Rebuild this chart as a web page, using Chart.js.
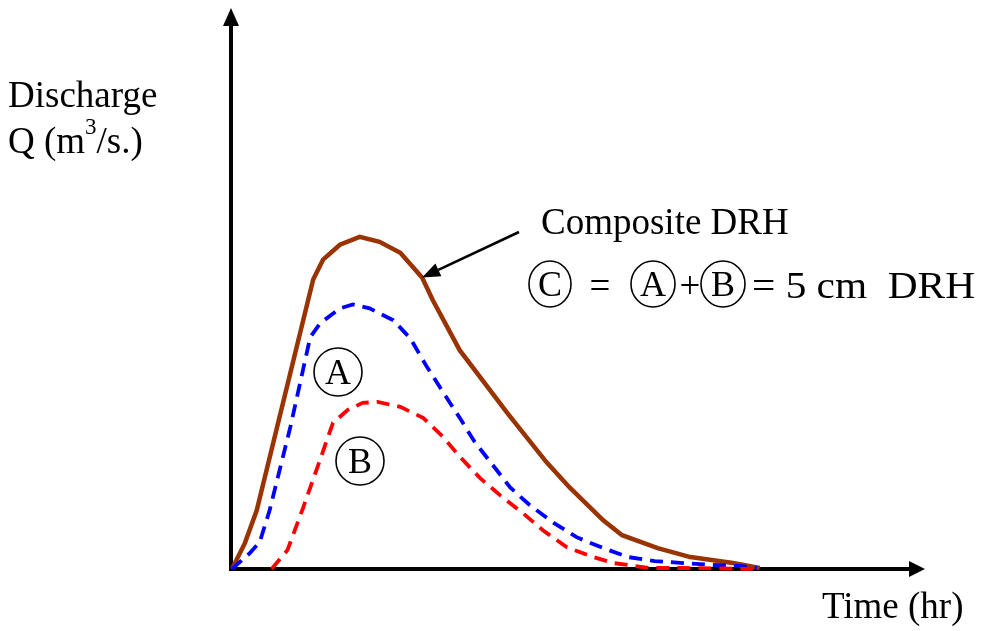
<!DOCTYPE html>
<html>
<head>
<meta charset="utf-8">
<script src="https://cdn.jsdelivr.net/npm/chart.js@4/dist/chart.umd.min.js"></script>
<style>
  html, body { margin: 0; padding: 0; background: #ffffff; }
  #wrap { width: 982px; height: 631px; position: relative; }
</style>
</head>
<body>
<div id="wrap"><canvas id="c" width="982" height="631"></canvas></div>
<script>
// ---- Data (time in hr, discharge in arbitrary units) ----
const compositeTime = [0, 1.3, 2.5, 8.2, 9.2, 10.9, 12.9, 14.9, 17.0, 19.2, 20.3, 23.0, 27.8, 31.8, 34.1, 37.5, 39.4, 43.0, 46.3, 50.6, 53.3];
const compositeQ    = [0, 2.6, 5.9, 29.1, 31.1, 32.6, 33.4, 32.9, 31.8, 29.3, 27.0, 22.0, 15.7, 10.7, 8.2, 4.9, 3.4, 2.1, 1.2, 0.6, 0.1];

const drhATime = [0, 1.8, 2.8, 3.8, 5.9, 7.9, 8.9, 10.9, 12.2, 13.9, 16.3, 18.0, 19.7, 21.5, 23.0, 24.5, 26.3, 28.1, 30.1, 32.4, 34.8, 37.5, 40.0, 42.7, 45.6, 48.6, 51.3, 53.0];
const drhAQ    = [0, 1.6, 2.7, 5.9, 14.3, 23.3, 24.7, 26.2, 26.6, 26.2, 25.0, 23.2, 20.3, 17.5, 15.2, 12.8, 10.5, 8.2, 6.4, 4.7, 3.2, 2.1, 1.2, 0.8, 0.6, 0.4, 0.3, 0.1];

const drhBTime = [4.0, 5.6, 7.2, 8.9, 10.2, 11.7, 13.2, 14.7, 17.0, 19.3, 21.3, 23.0, 25.1, 27.1, 29.4, 31.4, 33.8, 36.5, 38.5, 42.2, 45.6, 53.0];
const drhBQ    = [0, 1.9, 6.2, 11.0, 14.7, 16.0, 16.7, 16.8, 16.3, 15.2, 13.3, 11.3, 9.1, 7.4, 5.6, 3.9, 2.2, 1.2, 0.6, 0.1, 0.1, 0];

const seriesLabels = ["Composite DRH", "A", "B"];

const toPts = (xs, ys) => xs.map((x, i) => ({ x: x, y: ys[i] }));

const FONT = "'Liberation Serif', 'Times New Roman', serif";

function drawCircled(ctx, letter, cx, cy, rx, ry) {
  ctx.save();
  ctx.beginPath();
  ctx.ellipse(cx, cy, rx, ry, 0, 0, Math.PI * 2);
  ctx.lineWidth = 1.6;
  ctx.strokeStyle = '#000';
  ctx.stroke();
  ctx.fillStyle = '#000';
  ctx.font = '36px ' + FONT;
  ctx.textAlign = 'center';
  ctx.textBaseline = 'alphabetic';
  ctx.fillText(letter, cx, cy + 12);
  ctx.restore();
}

const decor = {
  id: 'decor',
  beforeDatasetsDraw(chart) {
    const ctx = chart.ctx;
    const xs = chart.scales.x, ys = chart.scales.y;
    const ox = xs.getPixelForValue(0) - 1;
    const oy = ys.getPixelForValue(0);
    const topTip = chart.chartArea.top - 4;
    const rightTip = chart.chartArea.right;
    ctx.save();
    ctx.strokeStyle = '#000';
    ctx.fillStyle = '#000';
    ctx.lineWidth = 4;
    // y axis
    ctx.beginPath();
    ctx.moveTo(ox, oy + 2);
    ctx.lineTo(ox, topTip + 16);
    ctx.stroke();
    ctx.beginPath();
    ctx.moveTo(ox, topTip);
    ctx.lineTo(ox - 8, topTip + 18);
    ctx.lineTo(ox + 8, topTip + 18);
    ctx.closePath();
    ctx.fill();
    // x axis
    ctx.beginPath();
    ctx.moveTo(ox - 2, oy);
    ctx.lineTo(rightTip - 14, oy);
    ctx.stroke();
    ctx.beginPath();
    ctx.moveTo(rightTip, oy);
    ctx.lineTo(rightTip - 16, oy - 8);
    ctx.lineTo(rightTip - 16, oy + 8);
    ctx.closePath();
    ctx.fill();
    ctx.restore();
  },
  afterDatasetsDraw(chart) {
    const ctx = chart.ctx;
    const xs = chart.scales.x, ys = chart.scales.y;
    ctx.save();
    ctx.fillStyle = '#000';
    ctx.textBaseline = 'alphabetic';
    ctx.textAlign = 'left';
    ctx.font = '37px ' + FONT;
    // Y axis title
    ctx.fillText('Discharge', 8, 107);
    const q = 'Q (m';
    ctx.fillText(q, 8, 153);
    let w = ctx.measureText(q).width;
    ctx.font = '23px ' + FONT;
    ctx.fillText('3', 8 + w, 134);
    const w3 = ctx.measureText('3').width;
    ctx.font = '37px ' + FONT;
    ctx.fillText('/s.)', 8 + w + w3, 153);
    // X axis title
    ctx.fillText('Time (hr)', 822, 618);
    // Composite label
    ctx.fillText('Composite DRH', 541, 234);
    // Equation
    drawCircled(ctx, 'C', 550, 284, 21, 23);
    ctx.font = '37px ' + FONT;
    ctx.textAlign = 'center';
    ctx.fillText('=', 600, 298);
    drawCircled(ctx, 'A', 653, 284, 22, 23);
    ctx.font = '37px ' + FONT;
    ctx.textAlign = 'center';
    ctx.fillText('+', 690, 298);
    drawCircled(ctx, 'B', 723, 284, 22, 23);
    ctx.font = '37px ' + FONT;
    ctx.textAlign = 'left';
    const eq = '= 5 cm  DRH';
    const eqW = ctx.measureText(eq).width;
    ctx.save();
    ctx.translate(752, 298);
    ctx.scale(223 / eqW, 1);
    ctx.fillText(eq, 0, 0);
    ctx.restore();
    // Curve labels
    drawCircled(ctx, 'A', 338, 372, 24, 24);
    drawCircled(ctx, 'B', 360, 461, 24, 24);
    // Arrow to composite curve
    const tipX = xs.getPixelForValue(19.2);
    const tipY = ys.getPixelForValue(29.3);
    const sx = 519, sy = 232;
    const ang = Math.atan2(tipY - sy, tipX - sx);
    const L = 18, H = 7;
    const bx = tipX - L * Math.cos(ang), by = tipY - L * Math.sin(ang);
    ctx.strokeStyle = '#000';
    ctx.lineWidth = 2.5;
    ctx.beginPath();
    ctx.moveTo(sx, sy);
    ctx.lineTo(bx, by);
    ctx.stroke();
    ctx.beginPath();
    ctx.moveTo(tipX, tipY);
    ctx.lineTo(bx + H * Math.sin(ang), by - H * Math.cos(ang));
    ctx.lineTo(bx - H * Math.sin(ang), by + H * Math.cos(ang));
    ctx.closePath();
    ctx.fill();
    ctx.restore();
  }
};

new Chart(document.getElementById('c'), {
  type: 'line',
  data: {
    datasets: [
      { label: seriesLabels[2], data: toPts(drhBTime, drhBQ), borderColor: '#ff0000', borderWidth: 3.8, borderDash: [13, 8], pointRadius: 0, tension: 0, fill: false, clip: false },
      { label: seriesLabels[1], data: toPts(drhATime, drhAQ), borderColor: '#0000ff', borderWidth: 3.8, borderDash: [13, 8], pointRadius: 0, tension: 0, fill: false, clip: false },
      { label: seriesLabels[0], data: toPts(compositeTime, compositeQ), borderColor: '#993300', borderWidth: 4.5, pointRadius: 0, tension: 0, fill: false, clip: false }
    ]
  },
  options: {
    responsive: false,
    animation: false,
    layout: { padding: { left: 232, right: 57, top: 12, bottom: 62 } },
    plugins: { legend: { display: false }, tooltip: { enabled: false }, title: { display: false } },
    scales: {
      x: { type: 'linear', min: 0, max: 70, display: false },
      y: { type: 'linear', min: 0, max: 56, display: false }
    }
  },
  plugins: [decor]
});
</script>
</body>
</html>
